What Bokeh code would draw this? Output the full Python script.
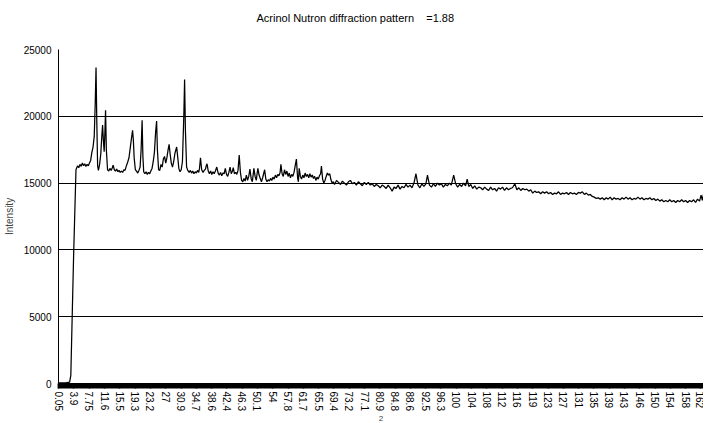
import numpy as np
from bokeh.plotting import figure
from bokeh.models import FixedTicker, Range1d, Title
from bokeh.embed import file_html
from bokeh.resources import INLINE

# ---- data (2-theta in degrees, neutron counts) ----
two_theta = [
    0.05, 1.0, 2.0, 2.8, 3.1, 3.8, 4.4, 4.8, 5.1, 5.4,
    5.7, 6.0, 6.3, 6.6, 6.9, 7.2, 7.5, 7.8, 8.1, 8.4,
    8.7, 9.0, 9.25, 9.45, 9.65, 9.85, 10.05, 10.35, 10.65, 10.9,
    11.1, 11.3, 11.5, 11.65, 11.85, 12.05, 12.35, 12.65, 12.95, 13.25,
    13.55, 13.75, 14.05, 14.35, 14.65, 14.95, 15.25, 15.55, 15.85, 16.15,
    16.45, 16.75, 17.05, 17.45, 17.75, 18.05, 18.35, 18.65, 18.85, 19.05,
    19.35, 19.65, 19.95, 20.25, 20.55, 20.8, 21.05, 21.25, 21.45, 21.75,
    22.05, 22.35, 22.65, 22.95, 23.25, 23.55, 23.85, 24.15, 24.45, 24.7,
    24.9, 25.2, 25.5, 25.8, 26.1, 26.4, 26.7, 27.0, 27.3, 27.6,
    27.85, 28.1, 28.4, 28.7, 29.0, 29.3, 29.75, 30.0, 30.3, 30.6,
    30.9, 31.2, 31.55, 31.75, 31.95, 32.25, 32.55, 32.9, 33.2, 33.5,
    33.8, 34.1, 34.4, 34.7, 35.0, 35.3, 35.5, 35.75, 36.05, 36.4,
    36.7, 37.0, 37.2, 37.4, 37.7, 38.0, 38.3, 38.6, 38.9, 39.2,
    39.5, 39.85, 40.2, 40.5, 40.8, 41.1, 41.4, 41.7, 42.0, 42.3,
    42.6, 42.9, 43.2, 43.5, 43.8, 44.0, 44.3, 44.6, 44.9, 45.2,
    45.5, 45.8, 46.1, 46.4, 46.7, 47.0, 47.3, 47.6, 47.9, 48.2,
    48.5, 48.8, 49.0, 49.2, 49.5, 49.8, 50.0, 50.2, 50.5, 50.8,
    51.1, 51.4, 51.65, 51.9, 52.2, 52.5, 52.8, 53.1, 53.4, 53.7,
    54.0, 54.3, 54.6, 54.9, 55.2, 55.5, 55.8, 56.0, 56.3, 56.6,
    56.9, 57.2, 57.5, 57.8, 58.1, 58.4, 58.7, 59.0, 59.3, 59.6,
    59.9, 60.2, 60.4, 60.6, 60.9, 61.2, 61.5, 61.8, 62.1, 62.4,
    62.7, 63.0, 63.3, 63.6, 63.9, 64.2, 64.5, 64.8, 65.1, 65.4,
    65.7, 66.0, 66.2, 66.5, 66.8, 67.1, 67.4, 67.7, 68.0, 68.3,
    68.6, 68.9, 69.2, 69.5, 70.0, 70.5, 71.0, 71.5, 72.0, 72.5,
    73.0, 73.5, 74.0, 74.5, 75.0, 75.5, 76.0, 76.5, 77.0, 77.5,
    78.0, 78.5, 79.0, 79.5, 80.0, 80.5, 81.0, 81.5, 82.0, 82.5,
    83.0, 83.5, 84.0, 84.5, 85.0, 85.5, 86.0, 86.5, 87.0, 87.5,
    88.0, 88.5, 89.0, 89.5, 90.0, 90.5, 91.0, 91.5, 92.0, 92.5,
    92.9, 93.4, 93.9, 94.4, 94.9, 95.4, 95.9, 96.4, 96.9, 97.4,
    97.9, 98.4, 98.9, 99.5, 100.0, 100.5, 101.0, 101.5, 102.0, 102.5,
    102.9, 103.3, 103.8, 104.3, 104.8, 105.3, 105.8, 106.3, 106.8, 107.3,
    107.8, 108.3, 108.8, 109.3, 109.8, 110.3, 110.8, 111.3, 111.8, 112.3,
    112.8, 113.3, 113.8, 114.3, 114.9, 115.4, 115.9, 116.4, 116.9, 117.4,
    117.9, 118.4, 118.9, 119.4, 119.9, 120.4, 120.9, 121.4, 121.9, 122.4,
    122.9, 123.4, 123.9, 124.4, 124.9, 125.4, 125.9, 126.4, 126.9, 127.4,
    127.9, 128.4, 128.9, 129.4, 129.9, 130.4, 130.9, 131.4, 131.9, 132.4,
    132.9, 133.4, 133.9, 134.4, 134.9, 135.4, 135.9, 136.4, 136.9, 137.4,
    137.9, 138.4, 138.9, 139.4, 139.9, 140.4, 140.9, 141.4, 141.9, 142.4,
    142.9, 143.4, 143.9, 144.4, 144.9, 145.4, 145.9, 146.4, 146.9, 147.4,
    147.9, 148.4, 148.9, 149.4, 149.9, 150.4, 150.9, 151.4, 151.9, 152.4,
    152.9, 153.4, 153.9, 154.4, 154.9, 155.4, 155.9, 156.4, 156.9, 157.4,
    157.9, 158.4, 158.9, 159.4, 159.9, 160.4, 160.9, 161.4, 161.8, 162.1,
    162.4,
]

intensity = [
    50, 50, 60, 100, 600, 9500, 16000, 16300, 16150, 16400,
    16250, 16500, 16300, 16450, 16250, 16400, 16300, 16500, 16700, 17300,
    17700, 18500, 21000, 23650, 19500, 16300, 15950, 16400, 17200, 18500,
    19350, 18200, 17350, 18500, 20450, 17500, 16000, 15900, 16100, 15950,
    16150, 16350, 16000, 15900, 16050, 15850, 15950, 15800, 15900, 15800,
    16000, 15950, 16250, 16600, 16900, 17600, 18300, 18950, 18200, 16900,
    16000, 15900, 15750, 15950, 16200, 17500, 19700, 17000, 15850, 15700,
    15850, 15650, 15800, 15700, 15900, 16100, 16600, 17300, 18800, 19650,
    17500, 16000, 15950, 16400, 16200, 16800, 17000, 16500, 16900, 17500,
    17900, 17200, 16500, 16200, 16600, 17200, 17700, 17000, 16100, 15850,
    16000, 16600, 20000, 22750, 19000, 16200, 15950, 15800, 15950, 15750,
    15900, 15700, 15850, 15750, 15950, 15800, 16100, 16900, 16000, 15800,
    15950, 16050, 16300, 16450, 15900, 15700, 15900, 15650, 15850, 15700,
    15900, 16200, 15750, 15600, 15800, 15550, 15750, 15700, 16100, 15650,
    15500, 15800, 16200, 15700, 15900, 16150, 15700, 15800, 15650, 15950,
    17100, 15800, 15200, 15100, 15350, 15150, 15600, 15200, 15500, 16050,
    15350, 15100, 15600, 16100, 15500, 15200, 15700, 16100, 15600, 15350,
    15100, 15400, 15700, 16000, 15300, 15100, 15250, 15150, 15350, 15200,
    15450, 15300, 15600, 15400, 15650, 15550, 15800, 16400, 15700, 15500,
    16000, 15650, 15900, 15500, 15750, 15400, 15650, 15500, 15800, 16300,
    16800, 15400, 15100, 16100, 15500, 15300, 15600, 15400, 15750, 15500,
    15650, 15400, 15700, 15450, 15600, 15350, 15500, 15200, 15450, 15300,
    15550, 15700, 16275, 15300, 15000, 15200, 15500, 15750, 15600, 15700,
    15250, 15000, 15100, 14900, 15200, 15050, 14900, 15150, 15000, 14850,
    15100, 15200, 14950, 15050, 14850, 15100, 14950, 14800, 15050, 14900,
    15050, 14850, 14950, 14750, 14900, 14800, 14650, 14850, 14750, 14600,
    14850, 14650, 14400, 14700, 14600, 14850, 14550, 14750, 14650, 14900,
    14700, 14850, 14650, 15000, 15700, 14850, 14650, 14950, 14750, 14950,
    15600, 14850, 14700, 14950, 14750, 15000, 14850, 14950, 14700, 14900,
    14800, 15000, 14850, 15600, 14950, 14700, 14900, 14750, 15000, 14800,
    15300, 14750, 14900, 14600, 14800, 14550, 14700, 14650, 14500, 14700,
    14550, 14450, 14700, 14500, 14600, 14400, 14650, 14550, 14700, 14450,
    14650, 14500, 14600, 14650, 14950, 14500, 14650, 14450, 14600, 14500,
    14550, 14400, 14500, 14250, 14400, 14300, 14350, 14200, 14350, 14250,
    14350, 14200, 14300, 14150, 14250, 14200, 14350, 14150, 14250, 14200,
    14300, 14150, 14300, 14200, 14250, 14150, 14300, 14250, 14350, 14150,
    14250, 14100, 14150, 14000, 13950, 13850, 13900, 13800, 13900, 13750,
    13900, 13800, 13950, 13750, 13900, 13800, 13850, 13750, 13900, 13800,
    13950, 13800, 13900, 13750, 13850, 13800, 13950, 13800, 13900, 13750,
    13850, 13800, 13900, 13750, 13850, 13700, 13800, 13650, 13750, 13600,
    13700, 13600, 13750, 13600, 13700, 13550, 13700, 13600, 13750, 13600,
    13700, 13550, 13700, 13600, 13750, 13550, 13800, 13650, 14100, 13700,
    14150,
]

tick_values = [
    0.05, 3.9, 7.75, 11.6, 15.45, 19.3, 23.15, 27.0, 30.85, 34.7,
    38.55, 42.4, 46.25, 50.1, 53.95, 57.8, 61.65, 65.5, 69.35, 73.2,
    77.05, 80.9, 84.75, 88.6, 92.45, 96.3, 100.15, 104.0, 107.85, 111.7,
    115.55, 119.4, 123.25, 127.1, 130.95, 134.8, 138.65, 142.5, 146.35, 150.2,
    154.05, 157.9, 161.75,
]
tick_labels = [
    "0.05", "3.9", "7.75", "11.6", "15.5", "19.3", "23.2", "27", "30.9", "34.7",
    "38.6", "42.4", "46.3", "50.1", "54", "57.8", "61.7", "65.5", "69.4", "73.2",
    "77.1", "80.9", "84.8", "88.6", "92.5", "96.3", "100", "104", "108", "112",
    "116", "119", "123", "127", "131", "135", "139", "143", "146", "150",
    "154", "158", "162",
]
y_ticks = [0, 5000, 10000, 15000, 20000, 25000]

title_text = "Acrinol Nutron diffraction pattern\u00a0\u00a0\u00a0\u00a0=1.88"

assert len(two_theta) == len(intensity)

FONT = "Liberation Sans"

p = figure(
    width=703, height=423,
    output_backend="svg", toolbar_location=None,
    x_range=Range1d(0, 162.4), y_range=Range1d(0, 25000),
    min_border_left=51, min_border_right=0,
    min_border_top=49, min_border_bottom=40,
)
p.outline_line_color = None
p.background_fill_color = "white"
p.border_fill_color = "white"
p.title.text = ""

# spacer (closest to the frame) then the real title above it
spacer = Title(text="\u00a0", text_font=FONT, text_font_size="10px", standoff=12)
p.add_layout(spacer, "above")
main_title = Title(
    text=title_text, align="left", offset=198, vertical_align="middle",
    text_font=FONT, text_font_size="11px", text_font_style="normal",
    text_color="black", standoff=0,
)
p.add_layout(main_title, "above")

p.line(two_theta, intensity, line_color="black", line_width=1.25)

# grid
p.xgrid.visible = False
p.ygrid.ticker = FixedTicker(ticks=y_ticks)
p.ygrid.grid_line_color = "black"
p.ygrid.grid_line_width = 1

# y axis
ya = p.yaxis[0]
ya.ticker = FixedTicker(ticks=y_ticks)
ya.major_tick_out = 0
ya.major_tick_in = 0
ya.minor_tick_out = 0
ya.minor_tick_in = 0
ya.axis_line_color = "black"
ya.major_label_standoff = 7
ya.major_label_text_font = FONT
ya.major_label_text_font_size = "10px"
ya.major_label_text_color = "black"
ya.axis_label = "Intensity"
ya.axis_label_text_font = FONT
ya.axis_label_text_font_size = "10px"
ya.axis_label_text_font_style = "normal"
ya.axis_label_standoff = 6

# x axis with dense category ticks
xa = p.xaxis[0]
minor = list(np.round(np.arange(0.0, 162.4, 0.25), 3))
xa.ticker = FixedTicker(ticks=tick_values, minor_ticks=minor)
xa.major_label_overrides = {v: s for v, s in zip(tick_values, tick_labels)}
xa.major_label_orientation = "vertical"
xa.major_tick_out = 5
xa.major_tick_in = 0
xa.minor_tick_out = 5
xa.minor_tick_in = 0
xa.minor_tick_line_width = 1.5
xa.minor_tick_line_color = "black"
xa.major_tick_line_color = "black"
xa.major_tick_line_width = 1.5
xa.axis_line_color = "black"
xa.major_label_standoff = 3
xa.major_label_text_font = FONT
xa.major_label_text_font_size = "10px"
xa.major_label_text_color = "black"
xa.axis_label = "2"
xa.axis_label_text_font = FONT
xa.axis_label_text_font_size = "8px"
xa.axis_label_text_font_style = "normal"
xa.axis_label_standoff = 2

open("out.html", "w").write(file_html(p, INLINE))
